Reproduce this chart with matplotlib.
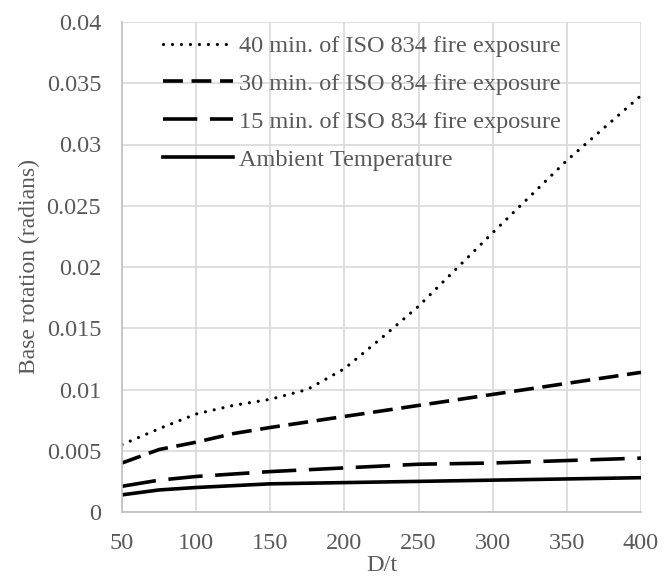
import matplotlib.pyplot as plt

# =========================
# DATA
# =========================

dt = [50, 75, 100, 125, 150, 175, 200, 225, 250, 300, 350, 400]
fire_40 = [0.0055, 0.0068, 0.0080, 0.0087, 0.0092, 0.0100, 0.0117, 0.0142,
           0.0168, 0.0228, 0.0287, 0.0340]

dt_b = [50, 75, 100, 125, 150, 200, 250, 300, 350, 400]
fire_30 = [0.0040, 0.0051, 0.0057, 0.0064, 0.0069, 0.0078, 0.0087, 0.0096, 0.0105, 0.0114]
fire_15 = [0.0021, 0.0026, 0.0029, 0.0031, 0.0033, 0.0036, 0.0039, 0.0040, 0.0042, 0.0044]
ambient = [0.0014, 0.0018, 0.0020, 0.00215, 0.0023, 0.0024, 0.0025, 0.0026, 0.0027, 0.0028]

labels = [
    "40 min. of ISO 834 fire exposure",
    "30 min. of ISO 834 fire exposure",
    "15 min. of ISO 834 fire exposure",
    "Ambient Temperature",
]

# =========================
# STYLE
# =========================

plt.rcParams["font.family"] = ["Liberation Serif", "DejaVu Serif"]
text_col = "#595959"
grid_col = "#d9d9d9"
fs = 17.5

fig = plt.figure(figsize=(6.67, 5.79), dpi=100)
ax = fig.add_axes([122 / 667, 1 - 512 / 579, (641 - 122) / 667, (512 - 22) / 579])

# =========================
# PLOT
# =========================

ax.plot(dt, fire_40, color="black", lw=2.3, dashes=(0.01, 2.8),
        dash_capstyle="round", label=labels[0])
ax.plot(dt_b, fire_30, color="black", lw=2.6, dashes=(5.5, 2.4),
        label=labels[1])
ax.plot(dt_b, fire_15, color="black", lw=2.6, dashes=(9.5, 3.5),
        label=labels[2])
ax.plot(dt_b, ambient, color="black", lw=2.6, label=labels[3])

ax.set_xlim(50, 400)
ax.set_ylim(0, 0.04)
ax.set_xticks(range(50, 401, 50))
ax.set_yticks([0, 0.005, 0.01, 0.015, 0.02, 0.025, 0.03, 0.035, 0.04])
ax.set_yticklabels(["0", "0.005", "0.01", "0.015", "0.02", "0.025", "0.03", "0.035", "0.04"])

ax.grid(True, color=grid_col, lw=1.2)
ax.set_axisbelow(True)
ax.tick_params(length=0, labelsize=fs, labelcolor=text_col)
ax.tick_params(axis="y", pad=15)
ax.tick_params(axis="x", pad=15)

for side in ["top", "right"]:
    ax.spines[side].set_visible(False)
for side in ["left", "bottom"]:
    ax.spines[side].set_color("#bfbfbf")
    ax.spines[side].set_linewidth(1.2)

ax.set_xlabel("D/t", fontsize=fs, color=text_col, labelpad=1)
ax.set_ylabel("Base rotation (radians)", fontsize=17, color=text_col, labelpad=5)

leg = ax.legend(loc="upper left", bbox_to_anchor=(0.06, 0.993), frameon=False,
                fontsize=fs, handlelength=2.9, handletextpad=0.25,
                labelspacing=0.65, borderaxespad=0)
for t in leg.get_texts():
    t.set_color(text_col)

fig.savefig("out.png", dpi=100)
